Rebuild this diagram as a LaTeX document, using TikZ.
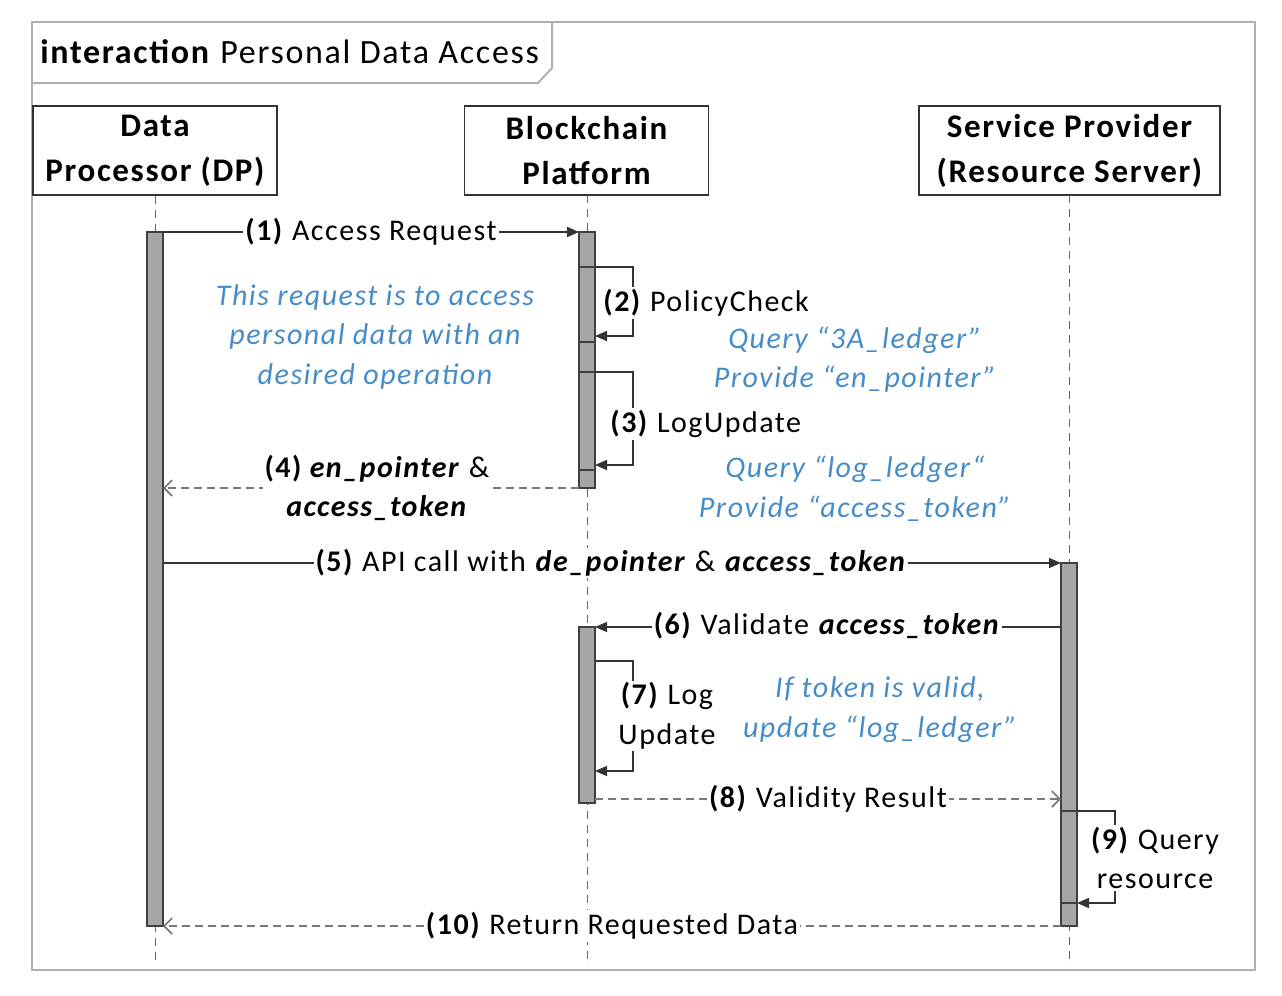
\documentclass[tikz,border=0pt]{standalone}
\usepackage{fontspec}
\setmainfont{Carlito}[LetterSpace=5]
\usetikzlibrary{arrows.meta}
\definecolor{notec}{RGB}{70,140,200}
\definecolor{barc}{RGB}{166,166,166}
\definecolor{framec}{RGB}{175,175,175}
\definecolor{retc}{RGB}{120,120,120}
\begin{document}
\begin{tikzpicture}[x=0.5pt,y=-0.5pt,
  head/.style={draw=black!80, line width=0.8pt, fill=white, minimum width=122pt, minimum height=44.5pt, align=center, inner sep=0pt, font=\fontsize{16.5}{22.5}\selectfont\bfseries},
  lifeline/.style={draw=black!60, line width=0.5pt, dash pattern=on 4pt off 3pt},
  actbar/.style={draw=black!75, line width=0.7pt, fill=barc},
  msg/.style={draw=black!80, line width=0.8pt, -{Triangle[length=6pt,width=5pt]}},
  ret/.style={draw=retc, line width=0.8pt, dash pattern=on 4pt off 2.5pt, -{Straight Barb[length=4pt,width=8pt]}},
  lbl/.style={fill=white, inner sep=1pt, align=center, font=\fontsize{15}{19.75}\selectfont},
  note/.style={text=notec, align=center, inner sep=0pt, font=\fontsize{15}{19.75}\selectfont\itshape}
]
\useasboundingbox (0,0) rectangle (1282,996);
% frame
\draw[framec, line width=1pt] (32,22) rectangle (1255,970);
\draw[framec, line width=1pt] (32,83) -- (538,83) -- (552,68) -- (552,22);
\node[anchor=west, inner sep=0pt, font=\fontsize{17}{19}\selectfont] (title) at (40,52) {\textbf{interaction} Personal Data Access};

% headers
\node[head] (dp) at (155,150.5) {Data\\Processor (DP)};
\node[head] (bc) at (586.5,150.5) {Blockchain\\Platform};
\node[head, minimum width=150.5pt] (sp) at (1069.5,150.5) {Service Provider\\(Resource Server)};

% lifelines
\coordinate (dpend) at (155,965);
\coordinate (bcend) at (587,965);
\coordinate (spend) at (1069,965);
\draw[lifeline] (dp.south) -- (dpend);
\draw[lifeline] (587,195) -- (bcend);
\draw[lifeline] (1069,195) -- (spend);

% activation bars
\draw[actbar] (147,232) rectangle (163,926);
\draw[actbar] (579,232) rectangle (595,488);
\draw[actbar] (579,267) rectangle (595,342);
\draw[actbar] (579,372) rectangle (595,470);
\draw[actbar] (579,627) rectangle (595,803);
\draw[actbar] (1061,563) rectangle (1077,926);
\draw[actbar] (1061,811) rectangle (1077,903);

% message end points
\coordinate (m1s) at (163,232);   \coordinate (m1e) at (579,232);
\coordinate (m2s) at (595,267);   \coordinate (m2e) at (595,336);
\coordinate (m3s) at (595,372);   \coordinate (m3e) at (595,465);
\coordinate (m4s) at (579,488);   \coordinate (m4e) at (163,488);
\coordinate (m5s) at (163,563);   \coordinate (m5e) at (1061,563);
\coordinate (m6s) at (1061,627);  \coordinate (m6e) at (595,627);
\coordinate (m7s) at (595,661);   \coordinate (m7e) at (595,771);
\coordinate (m8s) at (595,799);   \coordinate (m8e) at (1061,799);
\coordinate (m9s) at (1077,811);  \coordinate (m9e) at (1077,903);
\coordinate (m10s) at (1061,926); \coordinate (m10e) at (163,926);

% messages
\draw[msg] (m1s) -- (m1e);
\draw[msg] (m2s) -- ++(38,0) |- (m2e);
\draw[msg] (m3s) -- ++(38,0) |- (m3e);
\draw[ret] (m4s) -- (m4e);
\draw[msg] (m5s) -- (m5e);
\draw[msg] (m6s) -- (m6e);
\draw[msg] (m7s) -- ++(38,0) |- (m7e);
\draw[ret] (m8s) -- (m8e);
\draw[msg] (m9s) -- ++(38,0) |- (m9e);
\draw[ret] (m10s) -- (m10e);

% labels
\node[lbl] (l1) at (371,232) {\textbf{(1)} Access Request};
\node[lbl, anchor=west] (l2) at (601,303) {\textbf{(2)} PolicyCheck};
\node[lbl, anchor=west] (l3) at (608,424) {\textbf{(3)} LogUpdate};
\node[lbl] (l4) at (377,488) {\textbf{(4) \textit{en\_pointer}} \&\\\textbf{\textit{access\_token}}};
\node[lbl] (l5) at (611,563) {\textbf{(5)} API call with \textbf{\textit{de\_pointer}} \& \textbf{\textit{access\_token}}};
\node[lbl] (l6) at (827,626) {\textbf{(6)} Validate \textbf{\textit{access\_token}}};
\node[lbl] (l7) at (667,716) {\textbf{(7)} Log\\Update};
\node[lbl] (l8) at (828,799) {\textbf{(8)} Validity Result};
\node[lbl] (l9) at (1155,858) {\textbf{(9)} Query\\resource};
\node[lbl] (l10) at (612,926) {\textbf{(10)} Return Requested Data};

% notes
\node[note] (n1) at (375,336.5) {This request is to access\\personal data with an\\desired operation};
\node[note] (n2) at (855,359.5) {Query “3A\_ledger”\\Provide “en\_pointer”};
\node[note] (n3) at (855,488.5) {Query “log\_ledger“\\Provide “access\_token”};
\node[note] (n4) at (880,709.5) {If token is valid,\\update “log\_ledger”};
\end{tikzpicture}
\end{document}
